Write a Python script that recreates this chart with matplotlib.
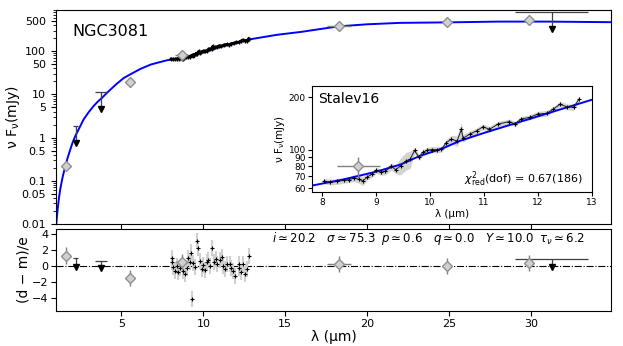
import matplotlib.pyplot as plt
from matplotlib.ticker import FixedLocator, FixedFormatter, NullLocator, NullFormatter

# model SED
model_x = [1.02, 1.05, 1.1, 1.18, 1.26, 1.4, 1.57, 1.72, 1.88, 2.03, 2.18, 2.4, 2.69, 3.0,
           3.3, 3.55, 3.82, 4.07, 4.33, 4.7, 5.14, 5.6, 6.16, 6.78, 7.18, 7.8, 8.4, 9.0,
           9.45, 9.8, 10.25, 10.55, 11.0, 11.6, 12.2, 13.0, 14.5, 16.0, 17.2, 18.3, 20.0,
           22.0, 25.0, 28.0, 31.0, 34.9]
model_y = [0.01, 0.014, 0.022, 0.04, 0.064, 0.12, 0.22, 0.35, 0.54, 0.8, 1.09, 1.6, 2.65, 3.9,
           5.4, 6.8, 8.4, 10.5, 13.0, 17.5, 24.0, 30.0, 39.0, 49.0, 54.0, 62.0, 67.4, 74.6,
           82.0, 91.6, 102.0, 112.0, 124.5, 142.0, 162.0, 193.0, 240.0, 281.0, 329.0, 377.0, 420.0,
           453.0, 466.0, 485.0, 485.0, 470.0]

# photometry (gray diamonds)
phot_x = [1.61, 5.49, 8.67, 18.29, 24.88, 29.88]
phot_y = [0.22, 19.0, 80.0, 378.0, 468.0, 540.0]
phot_xerr = [0.0, 0.0, 0.4, 0.72, 0.0, 0.0]
phot_yerr = [0.03, 4.0, 11.0, 40.0, 50.0, 60.0]
phot_res = [1.3, -1.5, 0.5, 0.3, 0.0, 0.4]

# upper limits (black triangles)
ul_x = [2.2, 3.77, 31.27]
ul_y = [0.77, 4.5, 329.0]
ul_top = [1.85, 11.3, 826.0]
ul_halfw = [0.15, 0.37, 2.25]
ul_res = [-0.1, -0.3, -0.1]
ul_res_top = [0.95, 0.6, 0.85]

# Spitzer spectrum (Stalev16)
spec_x = [8.03, 8.15, 8.28, 8.40, 8.49, 8.58, 8.68, 8.75, 8.83, 8.93, 9.00, 9.08, 9.17,
          9.28, 9.36, 9.45, 9.55, 9.63, 9.71, 9.79, 9.87, 9.95, 10.03, 10.12, 10.21,
          10.30, 10.39, 10.50, 10.58, 10.61, 10.73, 10.86, 10.98, 11.10, 11.26, 11.47,
          11.57, 11.69, 11.85, 12.00, 12.16, 12.28, 12.41, 12.53, 12.66, 12.77]
spec_y = [65.9, 65.0, 65.6, 66.5, 67.1, 68.5, 67.5, 66.0, 69.4, 72.6, 75.9, 74.2, 75.0,
          80.0, 76.6, 80.5, 86.0, 88.0, 98.7, 90.4, 96.5, 99.0, 100.0, 99.6, 100.4,
          109.6, 114.5, 112.0, 130.6, 116.0, 122.3, 127.9, 135.0, 130.6, 140.0, 144.6,
          140.0, 149.8, 152.9, 159.9, 161.3, 170.0, 182.0, 176.0, 174.5, 196.0]
spec_err = [2.5, 2.5, 2.5, 2.5, 2.5, 3.0, 3.5, 4.0, 3.0, 3.0, 3.0, 3.0, 3.5,
            4.0, 4.0, 9.0, 10.0, 10.0, 4.0, 4.0, 4.0, 4.0, 4.0, 4.0, 4.0,
            5.0, 6.0, 8.0, 12.0, 6.0, 5.0, 5.0, 5.0, 5.0, 5.0, 5.0,
            5.0, 5.0, 5.0, 6.0, 6.0, 6.0, 7.0, 7.0, 7.0, 7.0]

# spectrum residuals
res_x = [8.06, 8.07, 8.17, 8.27, 8.37, 8.48, 8.58, 8.78, 8.88, 8.99, 9.09, 9.19, 9.25,
         9.33, 9.39, 9.49, 9.64, 9.70, 9.80, 9.90, 10.0, 10.1, 10.2, 10.3, 10.4, 10.55,
         10.66, 10.78, 10.86, 10.99, 11.13, 11.23, 11.33, 11.47, 11.6, 11.7, 11.83, 11.95,
         12.15, 12.2, 12.32, 12.44, 12.56, 12.68, 12.8]
res_y = [0.94, 0.45, -0.16, -0.57, 0.04, -0.78, -0.24, -0.57, -0.98, -0.24, 0.98, 0.45, 1.67,
         -4.16, 0.37, -0.16, 3.1, 2.28, 0.65, -0.37, 0.12, -0.45, 0.45, 0.78, 0.04, 2.28,
         0.45, 0.86, 0.24, 0.78, 1.06, 0.04, -0.37, 0.24, 0.2, -0.2, -0.6, -1.2,
         0.3, -0.2, -0.8, 0.2, -1.0, -0.4, 1.2]

fig = plt.figure(figsize=(6.23, 3.46), dpi=100)
ax = fig.add_axes([0.0899, 0.3526, 0.8909, 0.6185])
axr = fig.add_axes([0.0899, 0.1012, 0.8909, 0.237])
axi = fig.add_axes([0.501, 0.445, 0.449, 0.306])

dia = dict(fmt='D', ms=5, mfc='#d0d0d0', mec='#909090', ecolor='#808080', elinewidth=1)
tri = dict(fmt='v', ms=5, color='k', ecolor='#404040', elinewidth=0.9)

# main panel
ax.plot(model_x, model_y, color='blue', lw=1.4, zorder=2)
ax.plot(spec_x, spec_y, color='k', lw=2, zorder=3)
ax.errorbar(spec_x, spec_y, yerr=spec_err, fmt='+', ms=3, color='k', lw=1.5, zorder=3)
ax.errorbar(phot_x, phot_y, xerr=phot_xerr, yerr=phot_yerr, zorder=4, **dia)
for x, y, top, hw in zip(ul_x, ul_y, ul_top, ul_halfw):
    ax.errorbar([x], [y], yerr=[[0], [top - y]], zorder=4, **tri)
    ax.hlines(top, x - hw, x + hw, color='#404040', lw=0.9)
ax.set_yscale('log')
ax.set_xlim(1.0, 34.9)
ax.set_ylim(0.01, 900)
yt = [0.01, 0.05, 0.1, 0.5, 1, 5, 10, 50, 100, 500]
ax.yaxis.set_major_locator(FixedLocator(yt))
ax.yaxis.set_major_formatter(FixedFormatter(['0.01', '0.05', '0.1', '0.5', '1', '5', '10', '50', '100', '500']))
ax.set_xticks([5, 10, 15, 20, 25, 30])
ax.set_xticklabels([])
ax.tick_params(labelsize=8)
ax.set_ylabel(r'$\mathrm{\nu\ F_{\nu}(mJy)}$', fontsize=10, labelpad=0)
ax.text(0.03, 0.9, 'NGC3081', transform=ax.transAxes, fontsize=11.5, va='center')

# inset
axi.plot(model_x, model_y, color='blue', lw=1.4, zorder=2)
axi.fill_between(spec_x, [y - e for y, e in zip(spec_y, spec_err)],
                 [y + e for y, e in zip(spec_y, spec_err)], color='#d3d3d3', lw=0, zorder=1)
axi.plot(spec_x, spec_y, color='#202020', lw=0.7, zorder=3)
axi.plot(spec_x, spec_y, '+', ms=3.5, color='k', mew=0.8, zorder=3)
axi.errorbar([phot_x[2]], [phot_y[2]], xerr=[phot_xerr[2]], yerr=[phot_yerr[2]], zorder=4, **dia)
axi.set_yscale('log')
axi.set_xlim(7.81, 13.0)
axi.set_ylim(57, 231)
axi.yaxis.set_major_locator(FixedLocator([60, 70, 80, 90, 100, 200]))
axi.yaxis.set_major_formatter(FixedFormatter(['60', '70', '80', '90', '100', '200']))
axi.yaxis.set_minor_locator(NullLocator())
axi.yaxis.set_minor_formatter(NullFormatter())
axi.set_xticks([8, 9, 10, 11, 12, 13])
axi.tick_params(labelsize=6.5, pad=1.5, length=3)
axi.set_xlabel('λ (μm)', fontsize=7.5, labelpad=1)
axi.set_ylabel(r'$\mathrm{\nu\ F_{\nu}(mJy)}$', fontsize=7.5, labelpad=1)
axi.text(0.02, 0.88, 'Stalev16', transform=axi.transAxes, fontsize=10, va='center')
axi.text(0.97, 0.12, r'$\chi^2_{\rm red}$(dof) = 0.67(186)', transform=axi.transAxes,
         fontsize=8, ha='right', va='center')

# residual panel
axr.axhline(0, color='k', ls='-.', lw=0.8)
axr.errorbar(res_x, res_y, yerr=[1.0] * len(res_x), fmt='+', ms=3, color='k', mew=0.8,
             ecolor='#d0d0d0', elinewidth=1.5, zorder=3)
axr.errorbar(phot_x, phot_res, xerr=phot_xerr, yerr=[1.0] * len(phot_x), zorder=4, **dia)
for x, y, top, hw in zip(ul_x, ul_res, ul_res_top, ul_halfw):
    axr.errorbar([x], [y], yerr=[[0], [top - y]], zorder=4, **tri)
    axr.hlines(top, x - hw, x + hw, color='#404040', lw=0.9)
axr.set_xlim(1.0, 34.9)
axr.set_ylim(-5.6, 4.6)
axr.set_yticks([-4, -2, 0, 2, 4])
axr.set_yticklabels(['\u22124', '\u22122', '0', '2', '4'])
axr.set_xticks([5, 10, 15, 20, 25, 30])
axr.tick_params(labelsize=8, pad=2)
axr.set_xlabel('λ (μm)', fontsize=10, labelpad=1)
axr.set_ylabel('(d \u2212 m)/e', fontsize=10, labelpad=1)
axr.text(0.953, 0.88, r'$i\simeq20.2\quad\sigma\simeq75.3\;\; p\simeq0.6\quad q\simeq0.0\quad Y\simeq10.0\;\;\tau_\nu\simeq6.2$',
         transform=axr.transAxes, fontsize=8.5, ha='right', va='center')

fig.savefig('out.png', dpi=100)
